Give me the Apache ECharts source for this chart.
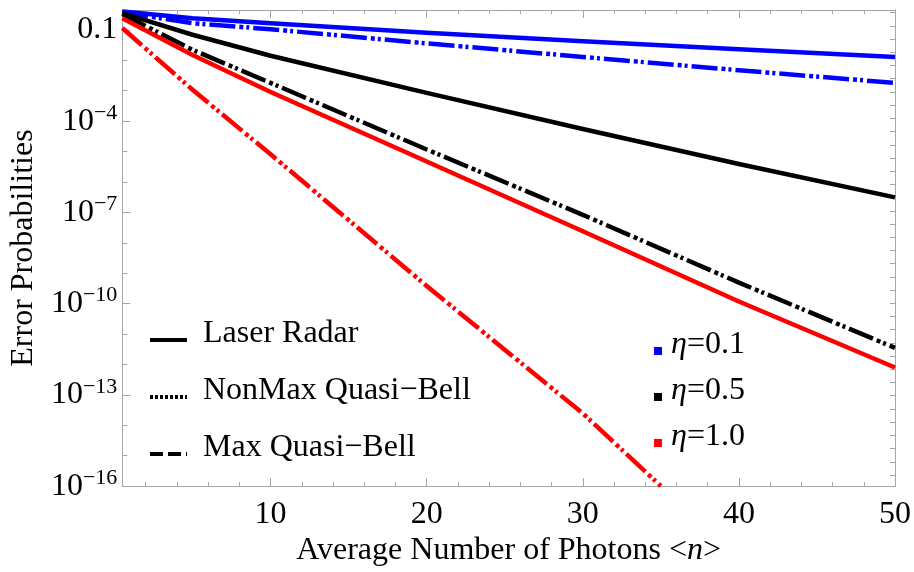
<!DOCTYPE html>
<html>
<head>
<meta charset="utf-8">
<script src="https://cdn.jsdelivr.net/npm/echarts@6/dist/echarts.min.js"></script>
<style>html,body{margin:0;padding:0;background:#fff}#c{width:914px;height:572px}</style>
</head>
<body>
<div id="c"></div>
<script>
// ---- data ----
var photons = [0.5, 5, 10, 20, 30, 40, 50];
var photonsRedQB = [0.5, 5, 10, 20, 30, 35];
var laserEta01 = [0.40, 0.24, 0.166, 0.081, 0.042, 0.023, 0.0129];
var quasiEta01 = [0.38, 0.165, 0.105, 0.036, 0.0129, 0.0047, 0.0018];
var laserEta05 = [0.355, 0.069, 0.0141, 8.5e-4, 5.5e-5, 3.9e-6, 3.1e-7];
var quasiEta05 = [0.33, 0.022, 1.8e-3, 1.17e-5, 8.3e-8, 4.9e-10, 3.5e-12];
var laserEta10 = [0.24, 0.015, 9.1e-4, 4.7e-6, 2.4e-8, 1.17e-10, 7.9e-13];
var quasiEta10 = [0.115, 1.07e-3, 8.1e-6, 3.8e-10, 2.45e-14, 1.0e-16];

var xMajorTicks = [10, 20, 30, 40, 50];
var xMinorTicks = [2, 4, 6, 8, 12, 14, 16, 18, 22, 24, 26, 28, 32, 34, 36, 38, 42, 44, 46, 48];
var yLabelExps = [-1, -4, -7, -10, -13, -16];
var yDecadeExps = [-2, -3, -5, -6, -8, -9, -11, -12, -14, -15];
var rightNatExps = [];
for (var k = -36; k <= -1; k++) rightNatExps.push(k);

var legendStyles = ['Laser Radar', 'NonMax Quasi\u2212Bell', 'Max Quasi\u2212Bell'];
var legendEtas = ['0.1', '0.5', '1.0'];
var etaColors = ['#0000ff', '#000000', '#ff0000'];

function pairs(xs, ys) { return xs.map(function (x, i) { return [x, ys[i]]; }); }

var SERIF = "'Liberation Serif','Times New Roman',serif";
var FRAME = '#a6a6a6';
var X0 = 0.5, X1 = 50, Y0 = 1e-16, Y1 = 0.45;

var chart = echarts.init(document.getElementById('c'), null, {renderer: 'canvas'});

function xAx(pos, ticks, len, labels) {
  return {
    type: 'value', position: pos, min: X0, max: X1,
    axisLine: {show: true, onZero: false, lineStyle: {color: FRAME, width: 1}},
    splitLine: {show: false},
    axisTick: {show: true, inside: true, length: len, customValues: ticks, lineStyle: {color: FRAME}},
    axisLabel: labels ? {show: true, customValues: ticks, margin: 12, fontFamily: SERIF, fontSize: 32, color: '#000'} : {show: false}
  };
}
function yAx(pos, ticks, len, labels) {
  return {
    type: 'log', logBase: 10, position: pos, min: Y0, max: Y1,
    axisLine: {show: true, onZero: false, lineStyle: {color: FRAME, width: 1}},
    splitLine: {show: false},
    axisTick: {show: true, inside: true, length: len, customValues: ticks, lineStyle: {color: FRAME}},
    axisLabel: labels ? {
      show: true, customValues: ticks, margin: 5, fontFamily: SERIF, fontSize: 32, color: '#000',
      formatter: function (v) {
        var e = Math.round(Math.log10(v));
        if (e === -1) return '{b|0.1}';
        return '{b|10}{s|\u2212' + (-e) + '}';
      },
      rich: {
        b: {fontFamily: SERIF, fontSize: 32, color: '#000'},
        s: {fontFamily: SERIF, fontSize: 22, color: '#000', padding: [0, 0, 16, 0]}
      }
    } : {show: false}
  };
}

var xAxes = [
  xAx('bottom', xMajorTicks, 8, true),
  xAx('bottom', xMinorTicks, 4, false),
  xAx('top', xMajorTicks, 8, false),
  xAx('top', xMinorTicks, 4, false)
];
xAxes[0].name = 'Average Number of Photons <{i|n}>';
xAxes[0].nameLocation = 'middle';
xAxes[0].nameGap = 44;
xAxes[0].nameTextStyle = {fontFamily: SERIF, fontSize: 32, color: '#000', rich: {i: {fontFamily: SERIF, fontSize: 32, fontStyle: 'italic', color: '#000'}}};

var yAxes = [
  yAx('left', yLabelExps.map(function (e) { return Math.pow(10, e); }), 8, true),
  yAx('left', yDecadeExps.map(function (e) { return Math.pow(10, e); }), 5, false),
  yAx('right', rightNatExps.map(function (e) { return Math.exp(e); }), 5, false)
];
yAxes[0].name = 'Error Probabilities';
yAxes[0].nameLocation = 'middle';
yAxes[0].nameRotate = 90;
yAxes[0].nameGap = 80;
yAxes[0].nameTextStyle = {fontFamily: SERIF, fontSize: 32, color: '#000'};

var dashQB = [26, 4, 4, 3, 3, 4];
function line(xs, ys, color, dashed) {
  return {
    type: 'line', xAxisIndex: 0, yAxisIndex: 0, data: pairs(xs, ys),
    symbol: 'none', clip: true, silent: true, animation: false,
    lineStyle: {color: color, width: 4.5, type: dashed ? dashQB : 'solid', cap: 'butt', join: 'round'}
  };
}

var series = [
  line(photons, laserEta01, etaColors[0], false),
  line(photons, quasiEta01, etaColors[0], true),
  line(photons, laserEta05, etaColors[1], false),
  line(photons, quasiEta05, etaColors[1], true),
  line(photons, laserEta10, etaColors[2], false),
  line(photonsRedQB, quasiEta10, etaColors[2], true)
];

var graphics = [];
var legY = [340, 397, 454];
var legDash = [null, [3, 2], [13, 5]];
legendStyles.forEach(function (t, i) {
  graphics.push({type: 'line', shape: {x1: 150, y1: legY[i], x2: 187, y2: legY[i]},
    style: {stroke: '#000', lineWidth: 4, lineDash: legDash[i]}});
  graphics.push({type: 'text', left: 203, top: legY[i] - 22,
    style: {text: t, fontFamily: SERIF, fontSize: 32, fill: '#000'}});
});
var etaY = [351, 397, 443];
legendEtas.forEach(function (t, i) {
  graphics.push({type: 'rect', shape: {x: 654, y: etaY[i] - 4, width: 8, height: 8},
    style: {fill: etaColors[i]}});
  graphics.push({type: 'text', left: 671, top: etaY[i] - 22,
    style: {text: '{e|\u03b7}{t|=' + t + '}', fontFamily: SERIF, fontSize: 32, fill: '#000',
      rich: {e: {fontFamily: SERIF, fontSize: 32, fontStyle: 'italic'}, t: {fontFamily: SERIF, fontSize: 32}}}});
});

chart.setOption({
  backgroundColor: '#fff',
  animation: false,
  grid: {left: 122, right: 19, top: 10, bottom: 84, containLabel: false},
  xAxis: xAxes,
  yAxis: yAxes,
  series: series,
  graphic: graphics
});
</script>
</body>
</html>
